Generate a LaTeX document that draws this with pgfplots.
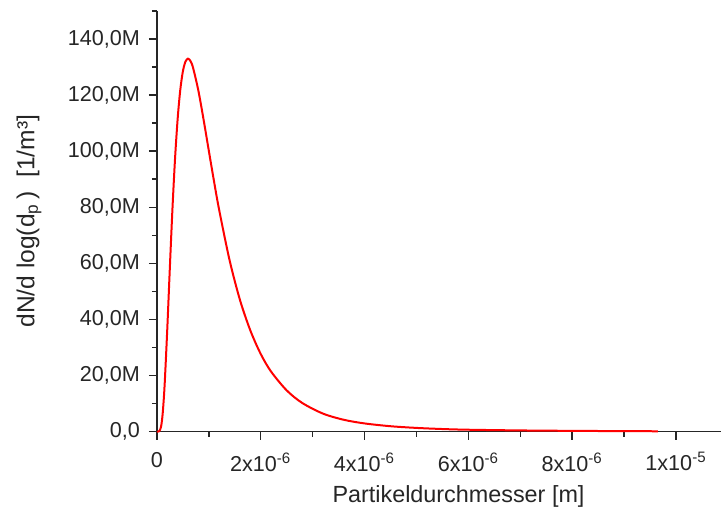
\documentclass[border=0pt]{standalone}
\usepackage{fontspec}
\setmainfont{Liberation Sans}
\usepackage{pgfplots}
\pgfplotsset{compat=1.18}
\definecolor{axc}{HTML}{262626}
\begin{document}
\begin{tikzpicture}
\begin{axis}[
  scale only axis,
  width=282.5pt, height=210.5pt,
  axis x line*=bottom, axis y line*=left,
  axis line style={axc, line width=0.75pt},
  xmin=0, xmax=10.87e-6, ymin=0, ymax=150e6,
  tick align=outside,
  major tick length=4pt, minor tick length=2.5pt,
  every tick/.style={axc, line width=0.75pt},
  xtick={0,2e-6,4e-6,6e-6,8e-6,10e-6},
  xticklabels={0,2x10\textsuperscript{-6},4x10\textsuperscript{-6},6x10\textsuperscript{-6},8x10\textsuperscript{-6},1x10\textsuperscript{-5}},
  minor xtick={1e-6,3e-6,5e-6,7e-6,9e-6},
  ytick={0,20e6,40e6,60e6,80e6,100e6,120e6,140e6},
  yticklabels={{0,0},{20,0M},{40,0M},{60,0M},{80,0M},{100,0M},{120,0M},{140,0M}},
  minor ytick={10e6,30e6,50e6,70e6,90e6,110e6,130e6,150e6},
  scaled ticks=false,
  tick label style={font=\fontsize{10.8}{12}\selectfont, text=axc},
  xticklabel style={yshift=-3pt},
  yticklabel style={xshift=-1pt},
  xlabel={Partikeldurchmesser [m]},
  ylabel={dN/d log(d\textsubscript{p}\,)\ \ [1/m³]},
  label style={font=\fontsize{11.7}{14}\selectfont, text=axc},
  ylabel style={font=\fontsize{12.3}{14}\selectfont, at={(axis description cs:-0.2265,0.5)}, anchor=center},
  xlabel style={at={(axis description cs:0.5345,0)}, anchor=center, yshift=-32.5pt},
  clip=false,
]
\addplot[red, line width=1pt, smooth] coordinates {
(0.0,0) (0.03e-6,0.02e6) (0.05e-6,0.17e6) (0.08e-6,1.65e6) (0.10e-6,4.1e6) (0.12e-6,8.1e6)
(0.15e-6,16.6e6) (0.20e-6,36.1e6) (0.25e-6,58.1e6) (0.30e-6,79.1e6) (0.35e-6,97.1e6)
(0.40e-6,111.3e6) (0.45e-6,121.6e6) (0.50e-6,128.3e6) (0.55e-6,131.9e6) (0.60e-6,133.0e6)
(0.65e-6,132.1e6) (0.70e-6,129.6e6) (0.80e-6,121.6e6) (0.90e-6,111.3e6) (1.00e-6,100.3e6)
(1.10e-6,89.4e6) (1.20e-6,79.1e6) (1.40e-6,61.2e6) (1.60e-6,47.0e6) (1.80e-6,36.1e6)
(2.00e-6,27.7e6) (2.20e-6,21.4e6) (2.50e-6,14.7e6) (2.80e-6,10.2e6) (3.20e-6,6.4e6)
(3.60e-6,4.2e6) (4.00e-6,2.9e6) (4.50e-6,1.9e6) (5.00e-6,1.3e6) (5.50e-6,0.9e6)
(6.00e-6,0.65e6) (7.00e-6,0.4e6) (8.00e-6,0.25e6) (9.00e-6,0.15e6) (9.65e-6,0.1e6)
};
\end{axis}
\path (-78.5pt,-42pt) rectangle (282.5pt,216pt);
\end{tikzpicture}
\end{document}
